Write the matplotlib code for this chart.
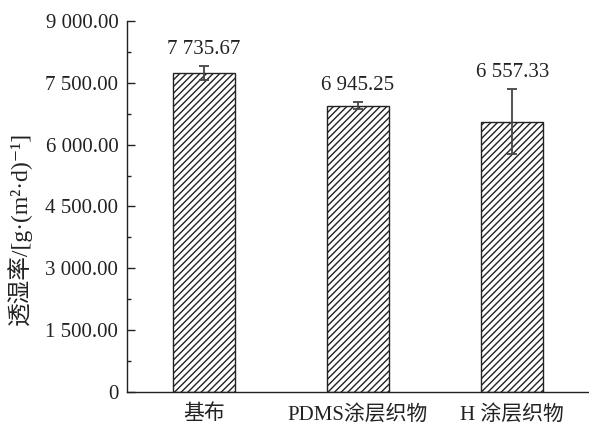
import matplotlib
matplotlib.use("Agg")
import matplotlib.pyplot as plt
from matplotlib.ticker import FuncFormatter, MultipleLocator

categories = ["基布", "PDMS涂层织物", "H 涂层织物"]
values = [7735.67, 6945.25, 6557.33]
errors = [170, 80, 780]
value_labels = ["7 735.67", "6 945.25", "6 557.33"]
yticks = [0, 1500, 3000, 4500, 6000, 7500, 9000]
ylabel = "透湿率/[g·(m²·d)⁻¹]"

plt.rcParams['font.family'] = ['Liberation Serif', 'Noto Sans CJK SC', 'DejaVu Sans']
plt.rcParams['hatch.linewidth'] = 1.0

fig = plt.figure(figsize=(5.89, 4.24), dpi=100)
ax = fig.add_axes([0.215, 0.075, 0.783, 0.876])

x = list(range(len(categories)))
ax.bar(x, values, width=0.405, color='white', edgecolor='#222222', linewidth=1.0,
       hatch='/////', zorder=2)
ax.errorbar(x, values, yerr=errors, fmt='none', ecolor='#444444', elinewidth=1.3,
            capsize=3.5, capthick=1.3, zorder=3)

for xi, v, e, lab in zip(x, values, errors, value_labels):
    ax.annotate(lab, (xi, v + e), xytext=(0, 5), textcoords='offset points',
                ha='center', va='bottom', fontsize=15, color='#222222')

ax.set_xlim(-0.5, 2.49)
ax.set_ylim(0, 9000)
ax.set_yticks(yticks)
ax.yaxis.set_minor_locator(MultipleLocator(750))


def fmt(v, pos):
    if v == 0:
        return "0"
    s = f"{v:,.2f}".replace(",", " ")
    return s


ax.yaxis.set_major_formatter(FuncFormatter(fmt))
ax.set_xticks(x)
ax.set_xticklabels(categories)
ax.tick_params(axis='x', length=0, labelsize=15, pad=9, colors='#222222')
ax.tick_params(axis='y', which='major', direction='in', length=6, width=1.0,
               labelsize=15, pad=6, colors='#222222')
ax.tick_params(axis='y', which='minor', direction='in', length=3, width=1.0,
               colors='#222222')

for s in ['top', 'right']:
    ax.spines[s].set_visible(False)
for s in ['left', 'bottom']:
    ax.spines[s].set_linewidth(1.0)
    ax.spines[s].set_color('#222222')

ax.set_ylabel(ylabel, fontsize=17, color='#222222')
ax.yaxis.set_label_coords(-0.205, 0.442)

fig.savefig("out.png", dpi=100)
